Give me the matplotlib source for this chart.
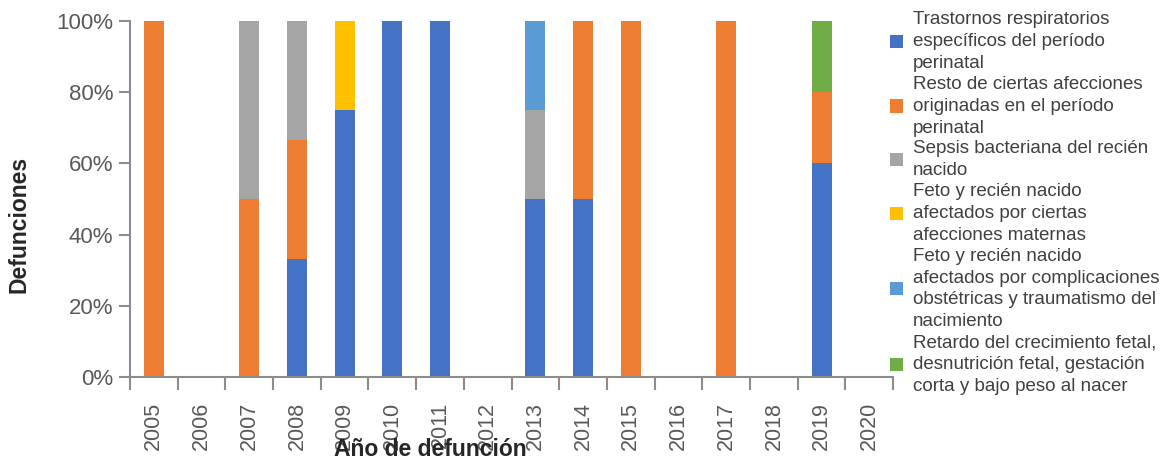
import numpy as np
import matplotlib
matplotlib.use('Agg')
import matplotlib.pyplot as plt

plt.rcParams['font.family'] = ['Liberation Sans', 'DejaVu Sans']

years = ['2005', '2006', '2007', '2008', '2009', '2010', '2011', '2012',
         '2013', '2014', '2015', '2016', '2017', '2018', '2019', '2020']

# percentages per cause, one value per year
resp = [0, 0, 0, 33.3, 75, 100, 100, 0, 50, 50, 0, 0, 0, 0, 60, 0]
resto = [100, 0, 50, 33.3, 0, 0, 0, 0, 0, 50, 100, 0, 100, 0, 20, 0]
sepsis = [0, 0, 50, 33.4, 0, 0, 0, 0, 25, 0, 0, 0, 0, 0, 0, 0]
maternas = [0, 0, 0, 0, 25, 0, 0, 0, 0, 0, 0, 0, 0, 0, 0, 0]
obstetricas = [0, 0, 0, 0, 0, 0, 0, 0, 25, 0, 0, 0, 0, 0, 0, 0]
retardo = [0, 0, 0, 0, 0, 0, 0, 0, 0, 0, 0, 0, 0, 0, 20, 0]

labels = ["Trastornos respiratorios\nespecíficos del período\nperinatal",
          "Resto de ciertas afecciones\noriginadas en el período\nperinatal",
          "Sepsis bacteriana del recién\nnacido",
          "Feto y recién nacido\nafectados por ciertas\nafecciones maternas",
          "Feto y recién nacido\nafectados por complicaciones\nobstétricas y traumatismo del\nnacimiento",
          "Retardo del crecimiento fetal,\ndesnutrición fetal, gestación\ncorta y bajo peso al nacer"]
colors = ['#4472C4', '#ED7D31', '#A5A5A5', '#FFC000', '#5B9BD5', '#70AD47']
series = [resp, resto, sepsis, maternas, obstetricas, retardo]

fig = plt.figure(figsize=(11.66, 4.65), dpi=100)
ax = fig.add_axes([0.1115, 0.189, 0.6545, 0.766])

x = np.arange(len(years))
bottom = np.zeros(len(years))
for s, lab, c in zip(series, labels, colors):
    s = np.array(s)
    ax.bar(x, s, 0.42, bottom=bottom, color=c, label=lab)
    bottom = bottom + s

ax.set_xlim(-0.5, len(years) - 0.5)
ax.set_ylim(0, 100)
ax.set_yticks([0, 20, 40, 60, 80, 100])
ax.set_yticklabels(['0%', '20%', '40%', '60%', '80%', '100%'])
ax.set_xticks(x)
ax.set_xticklabels(years, rotation=90)
ax.set_xticks(np.arange(-0.5, len(years)), minor=True)
ax.tick_params(axis='x', which='major', length=0, pad=18, labelsize=15.5, labelcolor='#595959')
ax.tick_params(axis='x', which='minor', length=9, width=1.5, color='#8c8c8c', direction='out')
ax.tick_params(axis='y', length=8, width=1.5, color='#8c8c8c', pad=4, labelsize=16, labelcolor='#595959')

for sp in ['top', 'right']:
    ax.spines[sp].set_visible(False)
for sp in ['left', 'bottom']:
    ax.spines[sp].set_color('#8c8c8c')
    ax.spines[sp].set_linewidth(1.5)

ax.set_xlabel('Año de defunción', fontsize=16.5, fontweight='bold', color='#262626')
ax.xaxis.set_label_coords(0.393, -0.171)
ax.set_ylabel('Defunciones', fontsize=16.5, fontweight='bold', color='#262626')
ax.yaxis.set_label_coords(-0.13, 0.43)

leg = fig.legend(loc='upper left', bbox_to_anchor=(890 / 1166, 1 - 11 / 465), frameon=False,
                 fontsize=13.5, handlelength=0.7, handleheight=0.7, handletextpad=0.53,
                 labelspacing=0.2, labelcolor='#404040', borderaxespad=0, borderpad=0)
for t in leg.get_texts():
    t.set_linespacing(1.38)

plt.savefig('out.png', dpi=100)
